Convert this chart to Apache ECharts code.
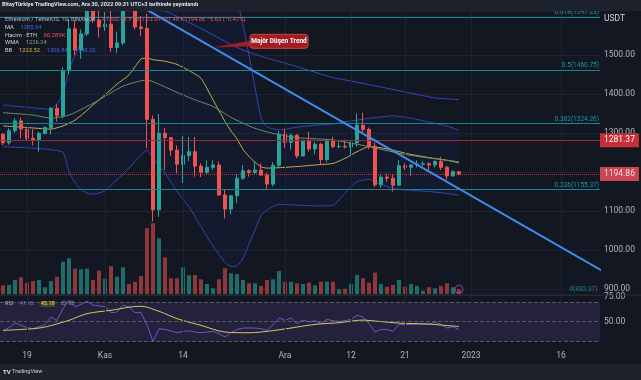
<!DOCTYPE html>
<html><head><meta charset="utf-8">
<script src="https://cdn.jsdelivr.net/npm/echarts/dist/echarts.min.js"></script>
<style>html,body{margin:0;padding:0;background:#131722;}#c{width:641px;height:380px;}</style>
</head><body><div id="c"></div>
<script>
// ---- categories (daily, 2022-10-15 .. 2023-01-22) ----
const categories = [];
(function(){ const s = Date.UTC(2022, 9, 15); for (let i = 0; i < 100; i++) categories.push(new Date(s + i*86400000).toISOString().slice(0,10)); })();
const tickDates = ['2022-10-19','2022-11-01','2022-11-14','2022-12-01','2022-12-12','2022-12-21','2023-01-01','2023-01-16'];
const tickTexts = ['19','Kas','14','Ara','12','21','2023','16'];

// ---- OHLC ----
const opens  = [1297,1275,1306,1331,1310,1286,1282,1299,1314,1363,1344,1460,1567,1513,1554,1621,1590,1572,1579,1519,1531,1645,1627,1572,1568,1335,1103,1299,1288,1256,1220,1242,1252,1215,1199,1212,1218,1141,1105,1139,1184,1203,1199,1205,1192,1169,1217,1297,1276,1294,1241,1279,1259,1271,1232,1281,1265,1266,1264,1275,1320,1309,1266,1167,1187,1184,1166,1216,1212,1218,1220,1221,1218,1227,1212,1190,1200.48];
const highs  = [1300,1312,1338,1339,1312,1310,1303,1317,1367,1374,1468,1593,1589,1565,1664,1641,1630,1610,1622,1560,1680,1680,1645,1600,1605,1345,1349,1313,1290,1268,1292,1290,1290,1222,1230,1230,1227,1155,1140,1194,1218,1207,1227,1222,1198,1226,1305,1310,1299,1297,1283,1303,1277,1275,1285,1290,1278,1283,1278,1350,1352,1314,1276,1194,1196,1194,1230,1222,1220,1230,1228,1225,1230,1239,1216,1205,1201.73];
const lows   = [1268,1270,1300,1287,1281,1268,1252,1296,1296,1329,1337,1450,1500,1490,1549,1582,1545,1562,1508,1505,1525,1615,1565,1548,1261,1073,1085,1205,1241,1197,1172,1228,1188,1187,1195,1205,1140,1081,1092,1120,1180,1188,1195,1190,1154,1163,1210,1262,1257,1235,1240,1252,1245,1220,1226,1261,1261,1260,1241,1265,1300,1258,1161,1160,1175,1150,1165,1205,1190,1212,1215,1205,1212,1205,1180,1188,1191.48];
const closes = [1275,1306,1331,1310,1286,1282,1299,1314,1363,1344,1460,1567,1513,1554,1621,1590,1572,1579,1519,1531,1645,1627,1572,1568,1335,1103,1299,1288,1256,1220,1242,1252,1215,1199,1212,1218,1141,1105,1139,1184,1203,1199,1205,1192,1169,1217,1297,1276,1294,1241,1279,1259,1271,1232,1281,1265,1266,1264,1275,1320,1309,1266,1167,1187,1184,1166,1216,1212,1218,1220,1221,1218,1227,1212,1190,1200.48,1194.86];
// volume (K ETH)
const volumes = [111,115,179,214,145,166,179,86,166,221,413,457,324,316,324,179,298,196,358,221,342,128,157,230,841,905,713,470,201,201,342,239,243,188,128,73,188,329,265,256,179,137,137,102,179,188,294,157,157,137,128,145,111,157,157,157,60,68,128,243,201,145,273,128,93,115,179,93,128,102,42,86,73,102,137,86,60.289];

// ---- indicators (day index -> value) ----
const bbIdx   = [0,4,8,10,11,12,13,14,15,17,19,21,23,24,25,27,29,31,33,35,37,38,39,40,41,42,43,44,46,49,52,55,57,59,61,63,65,68,71,74,76];
const bbUpper = [1372,1366,1361,1402,1461,1500,1533,1569,1602,1650,1680,1700,1710,1712,1715,1718,1716,1712,1705,1695,1680,1665,1640,1577,1500,1417,1340,1316,1308,1315,1320,1323,1329,1333,1338,1341,1344,1338,1328,1318,1306.84];
const bbBasis = [1318,1314,1310,1318,1325,1333,1345,1358,1372,1398,1425,1449,1490,1492,1488,1484,1476,1460,1440,1385,1330,1305,1285,1258,1240,1225,1213,1210,1211,1214,1218,1222,1235,1252,1265,1262,1256,1245,1237,1230,1223.52];
const bbLower = [1265,1262,1257,1250,1200,1172,1155,1146,1143,1152,1180,1210,1243,1256,1235,1197,1150,1110,1060,1010,968,958,959,978,1015,1051,1088,1103,1117,1115,1113,1115,1145,1175,1181,1168,1158,1153,1150,1145,1140.2];
const wmaIdx = [0,5,8,11,15,20,24,26,29,32,35,38,42,45,49,55,61,66,70,76];
const wmaVal = [1352,1346,1338,1346,1376,1420,1436,1425,1404,1385,1368,1340,1312,1299,1288,1282,1265,1248,1238,1226.24];
const maIdx = [20,27,33,39,43,49,55,57,62,68,72,76];
const maVal = [1650,1613,1568,1519,1497,1470,1442,1436,1421,1402,1390,1385.54];
const trendPts = [[24,1615.7],[100,945.4]];
const hLine = 1281.37;
const lastPrice = 1194.86;
const fibLevels = ['0.618','0.5','0.382','0.236','0'];
const fibPrices = [1597.23,1460.75,1324.26,1155.37,882.37];
const calloutBox = [46,1535];
const calloutTip = [35,1519];
const calloutText = 'Majör Düşen Trend';

// RSI
const rsi = [40.5,44,48.7,46.3,44.2,42.9,45,47,54.8,51.4,63.3,71.8,65,67.5,70.8,66.8,66,65.3,59.2,59.8,66.8,65,59.2,59.2,46.3,30,42.9,42.2,40.5,38.8,40.2,40.8,39.5,38.8,39.5,40.2,37.8,34.4,38.8,42.2,43.6,43.6,43.6,42.9,41.2,47,53.8,51.4,53.8,48,51.7,49.7,51,48,52.4,51,50.3,51,52.4,56.5,54.8,48,39.5,42.2,42.2,40.2,47.3,47,47.3,47.6,47.6,47.3,49.7,47.3,43.6,44.9,41.92];
const rsiMaIdx = [0,5,7,11,14,18,21,23,26,29,33,37,41,44,48,52,56,60,62,66,71,73,76];
const rsiMaVal = [41.2,42.9,44.6,51.4,58.2,61.6,64.7,65.7,60.6,53.1,46.3,39.5,38.8,40.2,43.6,47.3,49,51.7,50.7,48.6,47.6,46.6,45.18];
const priceTicks = [900,1000,1100,1300,1400,1500];
const rsiTicks = [50,75];

// ---- styles ----
const UP = '#26a69a', DOWN = '#ef5350', GRID = '#1f2330', TXT = '#b2b5be';
const FIB = '#17858f', BBC = '#3445b5', FONT = 'Roboto, "Noto Sans", sans-serif';

const candleData = opens.map((o,i)=>[o, closes[i], lows[i], highs[i]]);
const volData = volumes.map((v,i)=>({value:v, itemStyle:{color: closes[i] >= opens[i] ? '#1f6d69' : '#8e383b'}}));
const pairs = (idx, vals) => idx.map((x,k)=>[x, vals[k]]);
const isTick = (i, v) => tickDates.indexOf(v) >= 0;
const vLines = tickDates.map(d=>({xAxis:d}));
const fibItem = (p,k) => ({yAxis:p,
  lineStyle:{color:FIB, width:1, type:'solid'},
  label:{show:true, position:'insideEndTop', formatter:fibLevels[k]+'('+p.toFixed(2)+')', color:'#1f97a1', fontSize:6.5, distance:1, fontFamily:FONT}});

const chart = echarts.init(document.getElementById('c'), null, {renderer:'canvas'});
const option = {
  backgroundColor:'#131722',
  animation:false,
  textStyle:{fontFamily:FONT},
  grid:[
    {left:0, top:11, width:600, height:284, outerBoundsMode:'none'},
    {left:0, top:195, width:600, height:99, outerBoundsMode:'none'},
    {left:0, top:295, width:600, height:48, outerBoundsMode:'none'}
  ],
  xAxis:[
    {type:'category', gridIndex:0, data:categories, axisLine:{show:false}, axisTick:{show:false}, axisLabel:{show:false}, splitLine:{show:false}},
    {type:'category', gridIndex:1, data:categories, show:false},
    {type:'category', gridIndex:2, data:categories, axisLine:{show:false}, axisTick:{show:false}, splitLine:{show:false},
      axisLabel:{show:true, interval:isTick, formatter:v=>tickTexts[tickDates.indexOf(v)] || '', color:TXT, fontSize:8.5, margin:8, fontFamily:FONT}}
  ],
  yAxis:[
    {type:'value', gridIndex:0, position:'right', min:884.6, max:1612.8, splitNumber:7, scale:true,
      axisLine:{show:false}, axisTick:{show:false},
      axisLabel:{customValues:priceTicks, formatter:v=>priceTicks.indexOf(v)>=0 ? v.toFixed(2) : '', color:TXT, fontSize:8.5, margin:4, fontFamily:FONT},
      splitLine:{show:true, lineStyle:{color:GRID, width:1}},
      name:'USDT', nameLocation:'end', nameGap:-12, nameTextStyle:{color:'#d1d4dc', fontSize:8.5, align:'left', padding:[0,0,0,4], fontFamily:FONT}},
    {type:'value', gridIndex:1, min:0, max:1267, show:false},
    {type:'value', gridIndex:2, position:'right', min:28.4, max:77.1,
      axisLine:{show:false}, axisTick:{show:false}, splitLine:{show:false},
      axisLabel:{customValues:rsiTicks, formatter:v=>rsiTicks.indexOf(v)>=0 ? v.toFixed(2) : '', color:TXT, fontSize:8.5, margin:4, fontFamily:FONT}}
  ],
  series:[
    // vertical grid lines (main pane)
    {type:'line', xAxisIndex:0, yAxisIndex:0, data:closes, symbol:'none', lineStyle:{opacity:0}, silent:true, z:0,
      markLine:{silent:true, symbol:['none','none'], label:{show:false}, lineStyle:{color:GRID, width:1, type:'solid'}, data:vLines}},
    // fib 0 level label (level itself lies just below the visible price range)
    {type:'scatter', xAxisIndex:0, yAxisIndex:0, clip:false, silent:true, z:6,
      data:[[categories.length-1, fibPrices[4]]], symbolSize:1, itemStyle:{color:'rgba(0,0,0,0)'},
      label:{show:true, position:'left', distance:0, offset:[1,-6], formatter:fibLevels[4]+'('+fibPrices[4].toFixed(2)+')', color:'#1f97a1', fontSize:6.5, fontFamily:FONT}},
    // Bollinger band fill
    {type:'line', xAxisIndex:0, yAxisIndex:0, stack:'bb', data:pairs(bbIdx,bbLower), symbol:'none', smooth:0.2, lineStyle:{color:BBC, width:1}, z:1, silent:true},
    {type:'line', xAxisIndex:0, yAxisIndex:0, stack:'bb', data:bbIdx.map((x,k)=>[x, bbUpper[k]-bbLower[k]]), symbol:'none', smooth:0.2, lineStyle:{color:BBC, width:1}, areaStyle:{color:'rgba(41,98,255,0.07)'}, z:1, silent:true},
    {type:'line', xAxisIndex:0, yAxisIndex:0, data:pairs(bbIdx,bbBasis), symbol:'none', smooth:0.2, lineStyle:{color:'#c2ad55', width:1}, z:3, silent:true},
    {type:'line', xAxisIndex:0, yAxisIndex:0, data:pairs(wmaIdx,wmaVal), symbol:'none', smooth:0.2, lineStyle:{color:'#6b8f5e', width:1}, z:3, silent:true},
    {type:'line', xAxisIndex:0, yAxisIndex:0, data:pairs(maIdx,maVal), symbol:'none', smooth:0.2, lineStyle:{color:'#3448c0', width:1}, z:3, silent:true},
    // volume
    {type:'bar', xAxisIndex:1, yAxisIndex:1, data:volData, barWidth:4, z:2, silent:true},
    {type:'scatter', xAxisIndex:1, yAxisIndex:1, data:[[76, volumes[76]]], symbolSize:8, itemStyle:{color:'rgba(0,0,0,0)', borderColor:'#b04cc8', borderWidth:1}, z:5, silent:true},
    // candles
    {type:'candlestick', xAxisIndex:0, yAxisIndex:0, data:candleData, barWidth:4, clip:true, z:4,
      itemStyle:{color:UP, color0:DOWN, borderColor:UP, borderColor0:DOWN, borderWidth:1},
      markLine:{silent:true, symbol:['none','none'], animation:false,
        data: fibPrices.slice(0,4).map(fibItem)
          .concat([
            {yAxis:hLine, lineStyle:{color:'#9c2a32', width:1, type:'solid'},
              label:{show:true, position:'end', formatter:hLine.toFixed(2), color:'#fff', backgroundColor:'#c82d38', padding:[3,4,2,4], fontSize:8.5, distance:0, fontFamily:FONT}},
            {yAxis:lastPrice, lineStyle:{color:'#f23645', width:1, type:'dotted', opacity:0.8},
              label:{show:true, position:'end', formatter:lastPrice.toFixed(2), color:'#fff', backgroundColor:'#f7525f', padding:[3,4,2,4], fontSize:8.5, distance:0, fontFamily:FONT}}
          ])}},
    // trend line
    {type:'line', xAxisIndex:0, yAxisIndex:0, data:trendPts, symbol:'none', lineStyle:{color:'#3f8cf0', width:2}, z:5, silent:true},
    // callout
    {type:'custom', xAxisIndex:0, yAxisIndex:0, clip:false, z:6, silent:true,
      data:[[calloutBox[0], calloutBox[1], calloutTip[0], calloutTip[1]]],
      encode:{x:0, y:1},
      renderItem:function(params, api){
        const b = api.coord([api.value(0), api.value(1)]);
        const t = api.coord([api.value(2), api.value(3)]);
        const w = 58, h = 14, x0 = b[0]-w/2, y0 = b[1]-h/2;
        return {type:'group', children:[
          {type:'polygon', shape:{points:[[x0+3, y0+6],[x0+3, y0+12],[t[0], t[1]]]}, style:{fill:'#a01d22'}},
          {type:'rect', shape:{x:x0, y:y0, width:w, height:h, r:3}, style:{fill:'#a01d22', stroke:'#c8424a', lineWidth:1}},
          {type:'text', style:{text:calloutText, x:b[0], y:b[1]+0.5, align:'center', verticalAlign:'middle', fill:'#ffffff', font:'bold 6.5px Roboto, sans-serif'}}
        ]};
      }},
    // RSI
    {type:'line', xAxisIndex:2, yAxisIndex:2, data:rsi, symbol:'none', lineStyle:{color:'#6f55c9', width:1}, z:3, silent:true,
      markArea:{silent:true, itemStyle:{color:'rgba(126,87,194,0.16)'}, data:[[{yAxis:30},{yAxis:70}]]},
      markLine:{silent:true, symbol:['none','none'], label:{show:false},
        data:[{yAxis:70, lineStyle:{color:'#787b86', type:'dashed', width:1, opacity:0.6}},
              {yAxis:50, lineStyle:{color:'#787b86', type:'dashed', width:1, opacity:0.6}},
              {yAxis:30, lineStyle:{color:'#787b86', type:'dashed', width:1, opacity:0.6}}]
          .concat(vLines.map(v=>Object.assign({}, v, {lineStyle:{color:GRID, width:1, type:'solid'}})))}},
    {type:'line', xAxisIndex:2, yAxisIndex:2, data:pairs(rsiMaIdx,rsiMaVal), symbol:'none', smooth:0.3, lineStyle:{color:'#d8c65e', width:1}, z:4, silent:true}
  ],
  graphic:[
    {type:'rect', z:100, shape:{x:0, y:0, width:641, height:11}, style:{fill:'#1e222d'}},
    {type:'text', z:101, left:2, top:2, style:{text:'BitayTürkiye TradingView.com, Ara 30, 2022 09:31 UTC+3 tarihinde yayınlandı', fill:'#e0e3eb', font:'bold 5.6px Roboto, sans-serif'}},
    {type:'rect', z:100, shape:{x:0, y:365, width:641, height:15}, style:{fill:'#1e222d'}},
    {type:'line', z:101, shape:{x1:0, y1:365, x2:641, y2:365}, style:{stroke:'#2a2e39', lineWidth:1}},
    {type:'line', z:101, shape:{x1:0, y1:295, x2:641, y2:295}, style:{stroke:'#2a2e39', lineWidth:1}},
    {type:'text', z:101, left:3, top:369, style:{text:'{b|TV} TradingView', fill:'#d1d4dc', font:'5.5px Roboto, sans-serif', rich:{b:{fill:'#e0e3eb', font:'bold 6px Roboto, sans-serif'}}}},
    {type:'text', z:50, left:5, top:14, style:{text:'{g|Ethereum / TetherUS, 1G, BINANCE}  {r|A1200.48 Y1201.73 D1191.48 K1194.86 −5.63 (−0.47%)}', rich:{g:{fill:'#b2b5be', fontSize:5.8, fontFamily:FONT}, r:{fill:'#f7525f', fontSize:5.8, fontFamily:FONT}}}},
    {type:'text', z:50, left:5, top:22, style:{text:'{g|MA}  {b|1385.54}', rich:{g:{fill:'#d1d4dc', fontSize:5.8, fontFamily:FONT}, b:{fill:'#4a64e0', fontSize:5.8, fontFamily:FONT}}}},
    {type:'text', z:50, left:5, top:29.5, style:{text:'{g|Hacim · ETH}  {r|60.289K}', rich:{g:{fill:'#d1d4dc', fontSize:5.8, fontFamily:FONT}, r:{fill:'#f7525f', fontSize:5.8, fontFamily:FONT}}}},
    {type:'text', z:50, left:5, top:37, style:{text:'{g|WMA}  {v|1226.24}', rich:{g:{fill:'#d1d4dc', fontSize:5.8, fontFamily:FONT}, v:{fill:'#7fa96a', fontSize:5.8, fontFamily:FONT}}}},
    {type:'text', z:50, left:5, top:44.5, style:{text:'{g|BB}  {y|1223.52}  {b|1306.84}  {b|1140.20}', rich:{g:{fill:'#d1d4dc', fontSize:5.8, fontFamily:FONT}, y:{fill:'#e6b84a', fontSize:5.8, fontFamily:FONT}, b:{fill:'#4a64e0', fontSize:5.8, fontFamily:FONT}}}},
    {type:'text', z:50, left:5, top:298, style:{text:'{g|RSI}  {p|41.92}  {y|45.18}  {g|∅  ∅}', rich:{g:{fill:'#b2b5be', fontSize:5.6, fontFamily:FONT}, p:{fill:'#8a72d8', fontSize:5.6, fontFamily:FONT}, y:{fill:'#e8d870', backgroundColor:'#4a4520', fontSize:5.6, fontFamily:FONT}}}}
  ]
};
chart.setOption(option);
</script></body></html>
